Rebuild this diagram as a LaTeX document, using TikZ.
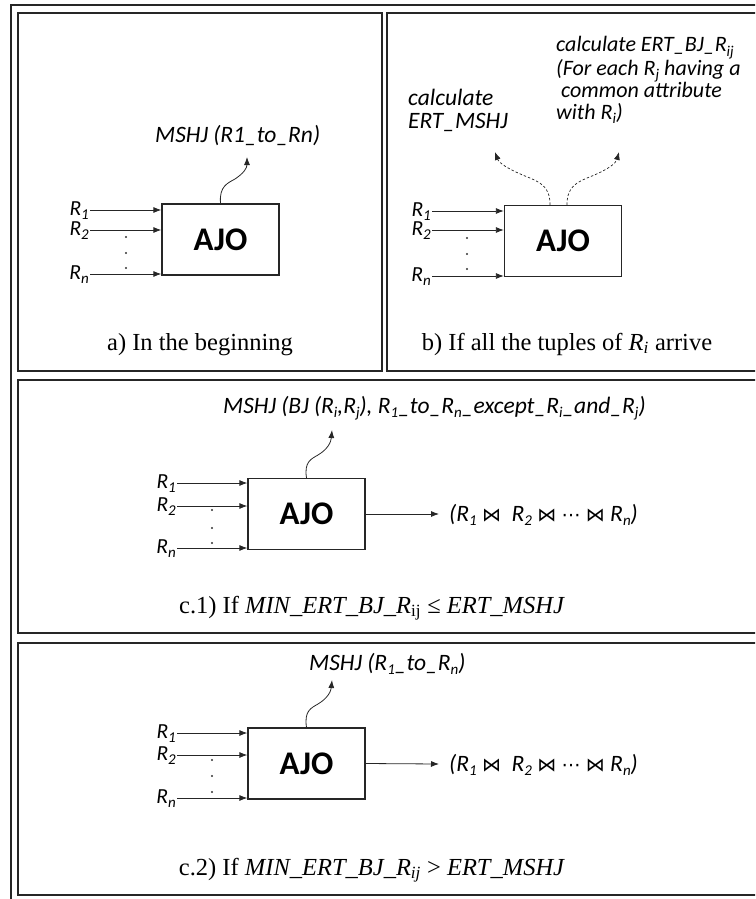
\documentclass[tikz,border=0pt]{standalone}
\usepackage{fontspec}
\setmainfont{Liberation Serif}
\newfontfamily\calib{Carlito}
\newfontfamily\djv{DejaVu Sans}
\usetikzlibrary{arrows.meta}
\newcommand\Rs[1]{R\raisebox{-.2em}{\fontsize{15}{15}\selectfont #1}}
\newcommand\bt{{\upshape\djv\fontsize{19}{22}\selectfont ⋈}}
\newcommand\cdt{{\upshape\djv\fontsize{19}{22}\selectfont ⋯}}
\tikzset{
  cell/.style={draw=black!85, line width=1.5pt},
  ajo/.style={draw=black!85, line width=1.3pt, minimum width=117pt, minimum height=71pt, inner sep=0pt,
    font=\calib\bfseries\fontsize{33}{36}\selectfont},
  lbl/.style={font=\calib\itshape\fontsize{23.5}{26}\selectfont, inner sep=0pt, anchor=base west},
  blbl/.style={lbl, font=\calib\itshape\fontsize{22}{24}\selectfont},
  rlbl/.style={font=\calib\itshape\fontsize{21.5}{24}\selectfont, inner sep=0pt, anchor=base east},
  captxt/.style={font=\fontsize{24.5}{28}\selectfont, inner sep=0pt, anchor=base},
  arr/.style={-{Latex[length=8pt,width=6pt]}, line width=0.8pt, draw=black!85},
  darr/.style={arr, dash pattern=on 2.5pt off 2pt, line width=0.7pt},
  vdot/.style={circle, fill=black!80, inner sep=0pt, minimum size=2.2pt},
}
\begin{document}
\begin{tikzpicture}[x=1pt,y=-1pt]
\useasboundingbox (0,0) rectangle (755,899);
\clip (0,0) rectangle (755,899);
% frame
\draw[cell] (11,910) -- (11,5) -- (770,5);
\draw[cell] (18,13) rectangle (382,371);
\draw[cell] (387,13) rectangle (770,371);
\draw[cell] (18,380) rectangle (770,633);
\draw[cell] (18,643) rectangle (770,895);

% ---------- panel a ----------
\node[ajo] (boxa) at (220.5,239.5) {AJO};
\node[lbl] (ta) at (155,142) {MSHJ (R1\_to\_Rn)};
\coordinate (tipa) at (247,157);
\draw[arr] (boxa.north) .. controls (219,186) and (228,183) .. (235,179) .. controls (244,173) and (247,168) .. (tipa);
\foreach \i/\y/\s in {1/210/1,2/230/2,3/274/n}{
  \coordinate (ia\i) at (90,\y);
  \node[rlbl] (la\i) at (89,\y+5) {\Rs{\s}};
  \draw[arr] (ia\i) -- (ia\i -| boxa.west);
}
\foreach \i/\y in {1/237,2/253,3/268}{\node[vdot] (da\i) at (126,\y) {};}
\node[captxt] (capa) at (200,350) {a) In the beginning};

% ---------- panel b ----------
\node[ajo] (boxb) at (563,241) {AJO};
\node[blbl] (bt1) at (556,52) {calculate ERT\_BJ\_\Rs{ij}};
\node[blbl] (bt2) at (556,75) {(For each \Rs{j} having a};
\node[blbl] (bt3) at (561,97) {common attribute};
\node[blbl] (bt4) at (556,119) {with \Rs{i})};
\node[lbl] (bm1) at (408,105) {calculate};
\node[lbl] (bm2) at (408,128) {ERT\_MSHJ};
\coordinate (tipb1) at (495,152);
\coordinate (tipb2) at (619,152);
\draw[darr] ([xshift=-13pt]boxb.north) .. controls (550,186) and (540,182) .. (525,176) .. controls (508,169) and (499,163) .. (tipb1);
\draw[darr] ([xshift=4pt]boxb.north) .. controls (567,186) and (577,182) .. (592,176) .. controls (609,169) and (616,163) .. (tipb2);
\foreach \i/\y/\s in {1/211/1,2/230/2,3/276/n}{
  \coordinate (ib\i) at (432,\y);
  \node[rlbl] (lb\i) at (431,\y+5) {\Rs{\s}};
  \draw[arr] (ib\i) -- (ib\i -| boxb.west);
}
\foreach \i/\y in {1/238,2/254,3/269}{\node[vdot] (db\i) at (467,\y) {};}
\node[captxt] (capb) at (567,350) {b) If all the tuples of \textit{R}\textsubscript{\textit{i}} arrive};

% ---------- panel c.1 ----------
\node[ajo] (boxc) at (306.5,514) {AJO};
\node[lbl] (tc) at (223,413) {MSHJ (BJ (\Rs{i},\Rs{j}), \Rs{1}\_to\_\Rs{n}\_except\_\Rs{i}\_and\_\Rs{j})};
\coordinate (tipc) at (332,430);
\draw[arr] (boxc.north) .. controls (304,462) and (311,459) .. (318,455) .. controls (328,449) and (331,442) .. (tipc);
\foreach \i/\y/\s in {1/483/1,2/506/2,3/548/n}{
  \coordinate (ic\i) at (177,\y);
  \node[rlbl] (lc\i) at (176,\y+5) {\Rs{\s}};
  \draw[arr] (ic\i) -- (ic\i -| boxc.west);
}
\foreach \i/\y in {1/510,2/528,3/543}{\node[vdot] (dc\i) at (212,\y) {};}
\coordinate (oc) at (439,514);
\draw[arr] (boxc.east) -- (oc);
\node[lbl] (outc) at (449,521) {(\Rs{1} \bt\ \ \Rs{2} \bt\ \cdt\ \bt\ \Rs{n})};
\node[captxt] (capc) at (372,613) {c.1) If \textit{MIN\_ERT\_BJ\_R}\textsubscript{ij} ≤ \textit{ERT\_MSHJ}};

% ---------- panel c.2 ----------
\node[ajo] (boxd) at (306.5,763.5) {AJO};
\node[lbl] (td) at (309,670) {MSHJ (\Rs{1}\_to\_\Rs{n})};
\coordinate (tipd) at (332,680);
\draw[arr] (boxd.north) .. controls (304,711) and (311,708) .. (318,704) .. controls (328,698) and (331,691) .. (tipd);
\foreach \i/\y/\s in {1/733/1,2/755/2,3/798/n}{
  \coordinate (id\i) at (177,\y);
  \node[rlbl] (ld\i) at (176,\y+5) {\Rs{\s}};
  \draw[arr] (id\i) -- (id\i -| boxd.west);
}
\foreach \i/\y in {1/760,2/776,3/792}{\node[vdot] (dd\i) at (212,\y) {};}
\coordinate (od) at (439,764);
\draw[arr] (boxd.east) -- (od);
\node[lbl] (outd) at (449,771) {(\Rs{1} \bt\ \ \Rs{2} \bt\ \cdt\ \bt\ \Rs{n})};
\node[captxt] (capd) at (372,875) {c.2) If \textit{MIN\_ERT\_BJ\_R}\textsubscript{\textit{ij}} > \textit{ERT\_MSHJ}};
\end{tikzpicture}
\end{document}
